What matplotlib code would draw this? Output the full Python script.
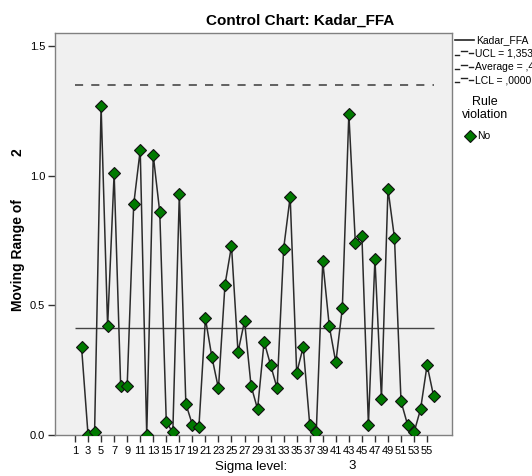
import matplotlib
matplotlib.use('Agg')
import matplotlib.pyplot as plt
from matplotlib.lines import Line2D

plt.rcParams['font.family'] = ['Liberation Sans', 'DejaVu Sans']

# ---- data ----
categories = list(range(2, 57))
moving_range = [0.34, 0.00, 0.01, 1.27, 0.42, 1.01, 0.19, 0.19, 0.89, 1.10,
                0.00, 1.08, 0.86, 0.05, 0.01, 0.93, 0.12, 0.04, 0.03, 0.45,
                0.30, 0.18, 0.58, 0.73, 0.32, 0.44, 0.19, 0.10, 0.36, 0.27,
                0.18, 0.72, 0.92, 0.24, 0.34, 0.04, 0.01, 0.67, 0.42, 0.28,
                0.49, 1.24, 0.74, 0.77, 0.04, 0.68, 0.14, 0.95, 0.76, 0.13,
                0.04, 0.01, 0.10, 0.27, 0.15]
ucl = 1.353
average = 0.414
lcl = 0.0
x_ticks = list(range(1, 56, 2))
y_ticks = [0.0, 0.5, 1.0, 1.5]
first_cat, last_cat = 1, 56

W, H = 532, 476
fig = plt.figure(figsize=(W / 100, H / 100), dpi=100)
fig.patch.set_facecolor('white')

ax = fig.add_axes([55 / W, 41 / H, 397 / W, 402 / H])
ax.set_facecolor('#f0f0f0')
for s in ax.spines.values():
    s.set_color('#808080')
    s.set_linewidth(1.0)

ax.hlines(ucl, first_cat, last_cat, colors='#555555', linestyles=(0, (4.5, 4.5)), linewidth=1.3, zorder=2)
ax.hlines(average, first_cat, last_cat, colors='#444444', linewidth=1.0, zorder=2)

ax.plot(categories, moving_range, color='#2b2b2b', linewidth=1.1, zorder=3)
ax.plot(categories, moving_range, linestyle='none', marker='D', markersize=5.8,
        markerfacecolor='#007a00', markeredgecolor='#111111', markeredgewidth=0.8, zorder=4)

ax.set_xlim(-2.07, 58.82)
ax.set_ylim(0, 1.552)
ax.set_xticks(x_ticks)
ax.set_xticklabels([str(t) for t in x_ticks], fontsize=8)
ax.set_yticks(y_ticks)
ax.set_yticklabels(['%.1f' % t for t in y_ticks], fontsize=8)
ax.tick_params(axis='both', direction='out', length=5, width=1, color='#333333', pad=2)
ax.tick_params(axis='x', pad=3)

# title and labels
fig.text(300 / W, 1 - 21 / H, 'Control Chart: Kadar_FFA', fontsize=11, fontweight='bold',
         ha='center', va='center')
fig.text(18 / W, 1 - 255 / H, 'Moving Range of', fontsize=10, fontweight='bold',
         rotation=90, ha='center', va='center')
fig.text(18 / W, 1 - 152 / H, '2', fontsize=10, fontweight='bold',
         rotation=90, ha='center', va='center')
fig.text(215 / W, 1 - 467 / H, 'Sigma level:', fontsize=9.5, ha='left', va='center')
fig.text(352 / W, 1 - 466 / H, '3', fontsize=9.5, ha='center', va='center')

# legend (manual)
def fx(px):
    return px / W

def fy(py):
    return 1 - py / H

fig.add_artist(Line2D([fx(455), fx(474)], [fy(40), fy(40)], color='#222222', lw=1.2))
fig.text(fx(476), fy(40), 'Kadar_FFA', fontsize=7.5, ha='left', va='center')

for yy, label in [(53, 'UCL = 1,353'), (67, 'Average = ,4141'), (80, 'LCL = ,0000')]:
    fig.add_artist(Line2D([fx(455), fx(459)], [fy(yy + 2), fy(yy + 2)], color='#222222', lw=1.0))
    fig.add_artist(Line2D([fx(461), fx(467)], [fy(yy - 2), fy(yy - 2)], color='#222222', lw=1.0))
    fig.add_artist(Line2D([fx(469), fx(473)], [fy(yy), fy(yy)], color='#222222', lw=1.0))
    fig.text(fx(475), fy(yy), label, fontsize=7.5, ha='left', va='center')

fig.text(fx(485), fy(102), 'Rule', fontsize=9, ha='center', va='center')
fig.text(fx(485), fy(115), 'violation', fontsize=9, ha='center', va='center')
fig.add_artist(Line2D([fx(470)], [fy(136)], marker='D', markersize=5.8, linestyle='none',
                      markerfacecolor='#007a00', markeredgecolor='#111111', markeredgewidth=0.8))
fig.text(fx(477), fy(136), 'No', fontsize=7.5, ha='left', va='center')

fig.savefig('out.png', dpi=100)
